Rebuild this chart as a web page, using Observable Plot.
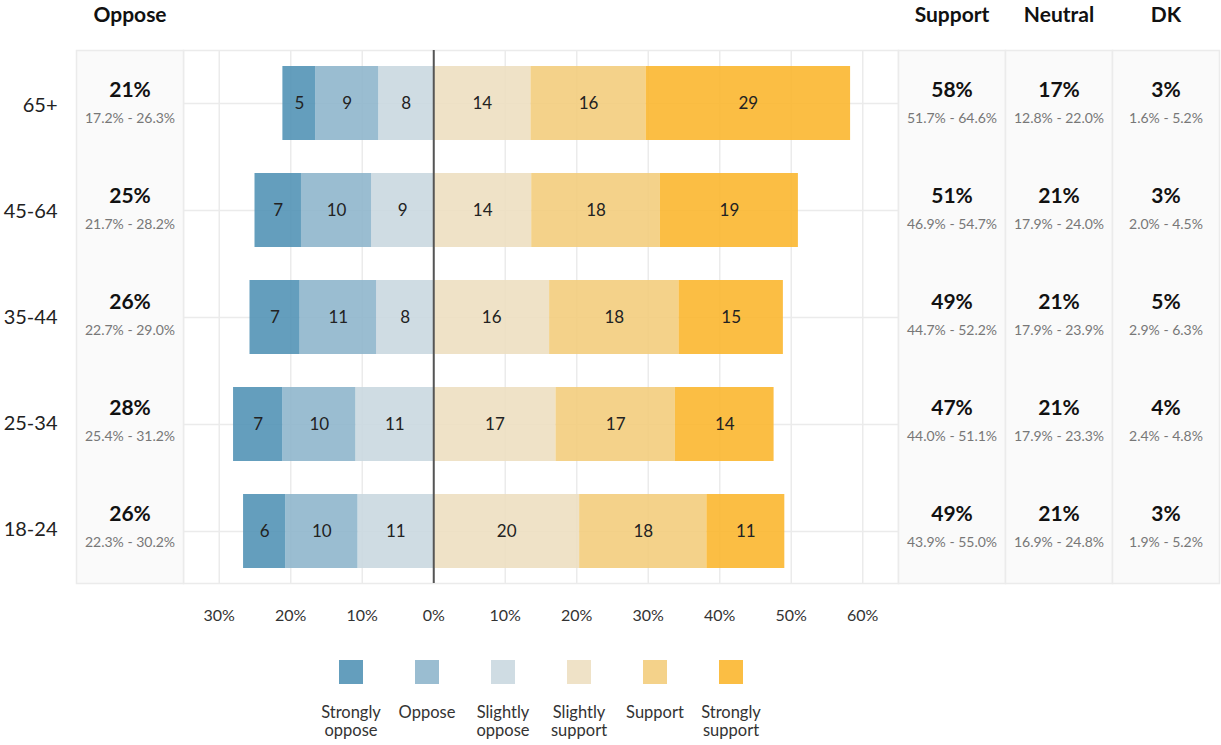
<!DOCTYPE html>
<html>
<head>
<meta charset="utf-8">
<script src="https://cdn.jsdelivr.net/npm/d3@7"></script>
<script src="https://cdn.jsdelivr.net/npm/@observablehq/plot@0.6"></script>
<style>
  html, body { margin: 0; padding: 0; background: #fff; overflow: hidden; }
  #wrap { position: relative; width: 1221px; height: 745px; font-family: Lato, "Noto Sans", sans-serif; }
  #legend { position: absolute; top: 660px; left: 313px; display: flex; }
  .item { width: 76px; display: flex; flex-direction: column; align-items: center; }
  .sw { width: 24px; height: 24px; }
  .lab { margin-top: 19px; font-size: 16.5px; line-height: 18px; color: #333; text-align: center; }
</style>
</head>
<body>
<div id="wrap"><div id="legend"></div></div>
<script>
// ---- data ----
const groups = ["65+", "45-64", "35-44", "25-34", "18-24"];
const levels = ["Strongly oppose", "Oppose", "Slightly oppose", "Slightly support", "Support", "Strongly support"];
const levelLabels = [["Strongly", "oppose"], ["Oppose"], ["Slightly", "oppose"], ["Slightly", "support"], ["Support"], ["Strongly", "support"]];
const colors = ["#5394b6", "#8fb6cc", "#cad8e0", "#eddfc1", "#f3cd7d", "#fbb730"];

const stronglyOppose  = [4.6, 6.5, 7.0, 6.9, 5.9];
const oppose          = [8.8, 9.8, 10.7, 10.2, 10.1];
const slightlyOppose  = [7.7, 8.7, 8.0, 10.9, 10.6];
const slightlySupport = [13.6, 13.7, 16.2, 17.1, 20.4];
const support         = [16.1, 18.0, 18.1, 16.7, 17.8];
const stronglySupport = [28.6, 19.3, 14.6, 13.8, 10.9];

const opposeTotal  = [21, 25, 26, 28, 26];
const opposeCI     = ["17.2% - 26.3%", "21.7% - 28.2%", "22.7% - 29.0%", "25.4% - 31.2%", "22.3% - 30.2%"];
const supportTotal = [58, 51, 49, 47, 49];
const supportCI    = ["51.7% - 64.6%", "46.9% - 54.7%", "44.7% - 52.2%", "44.0% - 51.1%", "43.9% - 55.0%"];
const neutralTotal = [17, 21, 21, 21, 21];
const neutralCI    = ["12.8% - 22.0%", "17.9% - 24.0%", "17.9% - 23.9%", "17.9% - 23.3%", "16.9% - 24.8%"];
const dkTotal      = [3, 3, 5, 4, 3];
const dkCI         = ["1.6% - 5.2%", "2.0% - 4.5%", "2.9% - 6.3%", "2.4% - 4.8%", "1.9% - 5.2%"];

const xTicks = [-30, -20, -10, 0, 10, 20, 30, 40, 50, 60];
const xDomain = [-35, 65];

// ---- tidy table for stacking (inner segments first so they stack from 0 outward) ----
const rows = [];
groups.forEach((g, i) => {
  [["Slightly oppose", -slightlyOppose[i]], ["Oppose", -oppose[i]], ["Strongly oppose", -stronglyOppose[i]],
   ["Slightly support", slightlySupport[i]], ["Support", support[i]], ["Strongly support", stronglySupport[i]]]
    .forEach(([level, value]) => rows.push({group: g, level, value}));
});

const wrap = document.getElementById("wrap");
function place(el, left) {
  el.style.position = "absolute";
  el.style.left = left + "px";
  el.style.top = "0px";
  wrap.appendChild(el);
}

const H = 640, MT = 50, MB = 57;
const font = "Lato, 'Noto Sans', sans-serif";
const yBase = {domain: groups, paddingInner: 0.31, paddingOuter: 0.145, label: null};
const grid = "#ebebeb";

// ---- main diverging chart ----
const main = Plot.plot({
  width: 1221, height: H,
  marginLeft: 183, marginRight: 323, marginTop: MT, marginBottom: MB,
  style: {fontFamily: font, fontSize: "16px", color: "#333", background: "transparent", overflow: "visible"},
  x: {domain: xDomain, ticks: xTicks, tickSize: 0, tickPadding: 26, tickFormat: d => Math.abs(d) + "%", label: null},
  y: {...yBase, axis: null},
  color: {domain: levels, range: colors},
  marks: [
    Plot.frame({stroke: grid, strokeWidth: 1.5}),
    Plot.ruleX(xTicks, {stroke: grid, strokeWidth: 1.5}),
    Plot.gridY({stroke: grid, strokeOpacity: 1, strokeWidth: 1.5}),
    Plot.barX(rows, Plot.stackX({x: "value", y: "group", fill: "level", fillOpacity: 0.9})),
    Plot.text(rows, Plot.stackX({x: "value", y: "group", z: "level",
      text: d => String(Math.round(Math.abs(d.value))), fontSize: 17, fill: "#222"})),
    Plot.ruleX([0], {stroke: "#555", strokeWidth: 2})
  ]
});
place(main, 0);

// ---- stat panels ----
function statPanel(header, totals, cis, width, showY) {
  const data = groups.map((g, i) => ({group: g, total: totals[i] + "%", ci: cis[i]}));
  return Plot.plot({
    width, height: H,
    marginLeft: showY ? 76 : 0, marginRight: 0, marginTop: MT, marginBottom: MB,
    style: {fontFamily: font, fontSize: "20px", color: "#222", background: "transparent", overflow: "visible"},
    y: showY ? {...yBase, tickSize: 0, tickPadding: 19} : {...yBase, axis: null},
    marks: [
      Plot.frame({fill: "#fafafa", stroke: grid, strokeWidth: 1.5}),
      Plot.text(data, {y: "group", text: "total", dy: -15, fontSize: 21, fontWeight: 700, fill: "#111"}),
      Plot.text(data, {y: "group", text: "ci", dy: 13, fontSize: 14, fill: "#777"}),
      Plot.text([header], {text: d => d, frameAnchor: "top", dy: -43, fontSize: 21, fontWeight: 700, fill: "#111"})
    ]
  });
}
place(statPanel("Oppose", opposeTotal, opposeCI, 183, true), 0);
place(statPanel("Support", supportTotal, supportCI, 107, false), 898);
place(statPanel("Neutral", neutralTotal, neutralCI, 107, false), 1005);
place(statPanel("DK", dkTotal, dkCI, 107, false), 1112);

// ---- legend ----
const legend = document.getElementById("legend");
wrap.appendChild(legend);
levels.forEach((lv, i) => {
  const item = document.createElement("div");
  item.className = "item";
  const sw = document.createElement("div");
  sw.className = "sw";
  sw.style.background = colors[i];
  sw.style.opacity = 0.9;
  const lab = document.createElement("div");
  lab.className = "lab";
  lab.innerHTML = levelLabels[i].join("<br>");
  item.appendChild(sw);
  item.appendChild(lab);
  legend.appendChild(item);
});
</script>
</body>
</html>
